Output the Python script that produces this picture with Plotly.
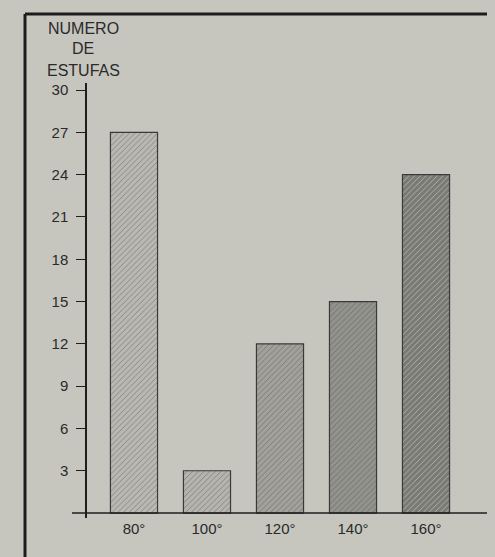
import plotly.graph_objects as go

categories = ["80°", "100°", "120°", "140°", "160°"]
values = [27, 3, 12, 15, 24]
bar_colors = ["#b9b9b2", "#b5b5ae", "#a2a29b", "#93938d", "#7a7a74"]
y_ticks = [3, 6, 9, 12, 15, 18, 21, 24, 27, 30]
x_pos = list(range(1, len(categories) + 1))

BG = "#c6c6bf"
OFF = 8  # page body margin
W, H = 495 - OFF, 557 - OFF
L, R, T, B = 72 - OFF, 0, 83 - OFF, 557 - 518
ph = H - T - B
pw = W - L - R

def px_x(x):
    return (x - OFF - L) / pw

def px_y(y):
    return 1 - (y - OFF - T) / ph

fig = go.Figure()
fig.add_trace(go.Bar(
    x=x_pos, y=values, width=0.645,
    marker=dict(color=bar_colors,
                line=dict(color="#3a3a3a", width=1.2),
                pattern=dict(shape="/", size=4, solidity=0.2, fgcolor="#7c7c76")),
    hoverinfo="skip",
))

font = dict(family="Liberation Sans, Arial, sans-serif", size=15, color="#2a2a2a")
fig.update_layout(
    width=W, height=H,
    margin=dict(l=L, r=R, t=T, b=B),
    paper_bgcolor=BG, plot_bgcolor=BG,
    showlegend=False, font=font,
    xaxis=dict(range=[0.151, 5.945], tickvals=x_pos, ticktext=categories,
               showline=False, showgrid=False, zeroline=False, ticks="",
               tickfont=dict(size=15, color="#2a2a2a")),
    yaxis=dict(range=[-0.35, 30.5], tickvals=y_ticks, anchor="free",
               position=px_x(86),
               showline=True, linecolor="#1e1e1e", linewidth=1.5,
               ticks="outside", ticklen=9, tickcolor="#1e1e1e", tickwidth=1.3,
               ticklabelstandoff=5,
               showgrid=False, zeroline=False,
               tickfont=dict(size=15, color="#2a2a2a")),
)

# x axis baseline
fig.add_shape(type="line", xref="paper", yref="y", x0=0, x1=1, y0=0, y1=0,
              line=dict(color="#1e1e1e", width=1.5))

# outer frame
fx0 = px_x(25)
fy1 = px_y(14)
fig.add_shape(type="line", xref="paper", yref="paper", x0=fx0, x1=fx0, y0=fy1, y1=-0.2,
              line=dict(color="#1c1c1c", width=3))
fig.add_shape(type="line", xref="paper", yref="paper", x0=fx0, x1=1.2, y0=fy1, y1=fy1,
              line=dict(color="#1c1c1c", width=3))

for txt, yy in [("NUMERO", 29), ("DE", 49), ("ESTUFAS", 70)]:
    fig.add_annotation(text=txt, xref="paper", yref="paper", x=px_x(83), y=px_y(yy),
                       showarrow=False, xanchor="center", yanchor="middle",
                       font=dict(size=16, color="#2a2a2a"))

fig.add_annotation(text="C", xref="paper", yref="paper", x=px_x(486), y=px_y(530),
                   showarrow=False, xanchor="left", yanchor="middle",
                   font=dict(size=15, color="#2a2a2a"))

fig.write_html("out.html",
               post_script="document.body.style.background='%s';" % BG)
